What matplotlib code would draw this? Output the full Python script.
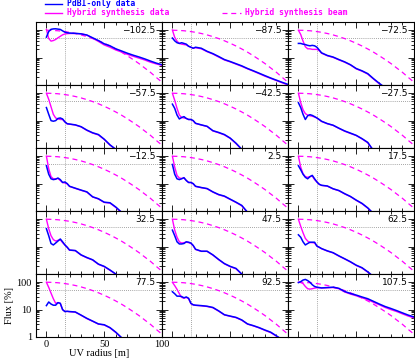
import numpy as np
import matplotlib
matplotlib.use('Agg')
from matplotlib import pyplot as plt
from matplotlib.lines import Line2D
from matplotlib.ticker import MultipleLocator, LogLocator, NullFormatter, FuncFormatter

nan = None

# UV radius sampling [m] for the measured curves
radius = [0, 2, 4, 6, 8, 10, 12, 14, 16, 18, 20, 25, 30, 35, 40, 45, 50,
          55, 60, 65, 70, 75, 80, 85, 90, 95, 100]

# hybrid synthesis beam profile
beam_radius = [0, 5, 10, 15, 20, 25, 30, 35, 40, 45, 50, 55, 60, 65, 70,
               75, 80, 85, 90, 95, 100]
beam_flux = [100, 98.9, 95.7, 90.6, 84.1, 76.1, 67.5, 58.5, 49.7, 41.2, 33.5,
             26.6, 20.7, 15.8, 11.7, 8.5, 6.1, 4.2, 2.9, 1.9, 1.26]

panel_labels = ['\u2212102.5', '\u221287.5', '\u221272.5',
                '\u221257.5', '\u221242.5', '\u221227.5',
                '\u221212.5', '2.5', '17.5',
                '32.5', '47.5', '62.5',
                '77.5', '92.5', '107.5']

pdbi_flux = [
    [56, 90, 108, 112, 113, 110, 107, 95, 85, 81, 79, 77, 74, 67, 53, 42, 32, 27, 21, 17.5, 14.5, 12.3, 10.6, 9, 7.5, 6.3, 5.5],
    [52, 41, 35, 33, 35, 33, 31, 26, 24, 22, 24, 22, 17, 14, 11, 8.5, 7.2, 6, 5, 4, 3.3, 2.7, 2.2, 1.8, 1.5, 1.25, 1.05],
    [33, 33, 31, 30, 28, 27, 28, 27, 24, 19, 15, 12, 10.5, 8.5, 7, 5.5, 4, 3.3, 2.6, 1.7, 1.15, 0.8, nan, nan, nan, nan, nan],
    [30, 17, 10, 9.5, 10, 12, 12.5, 11.5, 9, 7.7, 7.5, 7, 6, 4.5, 3.6, 3.1, 2.1, 1.3, 0.9, nan, nan, nan, nan, nan, nan, nan, nan],
    [40, 28, 16, 11.5, 13, 14, 12, 11, 11, 10, 8, 7, 6.2, 4.3, 3.7, 3.1, 2.3, 1.5, 0.9, nan, nan, nan, nan, nan, nan, nan, nan],
    [45, 30, 17, 11, 15, 16.5, 15.5, 14, 12.5, 11, 9.5, 7.8, 6.8, 5.3, 4.2, 3.5, 2.9, 2.2, 1.6, 0.8, nan, nan, nan, nan, nan, nan, nan],
    [45, 22, 15, 14, 14.5, 16, 14, 11, 11.5, 10, 8, 6.8, 5.8, 5, 3.3, 2.8, 2.1, 2.0, 1.4, 0.9, nan, nan, nan, nan, nan, nan, nan],
    [50, 22, 15, 14, 15, 16.5, 13, 11, 11, 10, 8, 7.2, 6.6, 5, 4, 3.5, 2.7, 2.1, 1.6, 0.9, nan, nan, nan, nan, nan, nan, nan],
    [45, 32, 22, 17, 15, 18, 20, 15, 11.5, 9.5, 8.7, 8.2, 6.5, 5.6, 4.3, 3.4, 2.5, 1.9, 1.3, 0.8, nan, nan, nan, nan, nan, nan, nan],
    [45, 25, 13, 11.5, 13.5, 16, 19, 15, 11.5, 9.5, 7.5, 7.2, 5, 4, 3.3, 2.3, 1.9, 1.4, 1.0, nan, nan, nan, nan, nan, nan, nan, nan],
    [40, 25, 15, 12.5, 12.5, 13, 15, 14.5, 13.5, 11, 8, 6.8, 6.8, 5, 3.4, 2.4, 1.9, 1.6, 1.0, nan, nan, nan, nan, nan, nan, nan, nan],
    [27, 22, 15, 11.5, 13, 14.5, 14.5, 14.5, 10.5, 9.5, 8.5, 7, 6, 4.6, 3.6, 2.8, 2.1, 1.7, 1.2, 0.8, nan, nan, nan, nan, nan, nan, nan],
    [14, 19, 16, 14.5, 14.5, 18, 17, 10, 8.5, 8.7, 8.5, 8.2, 6.3, 4.8, 3.8, 3, 2.8, 2.2, 1.5, 0.95, nan, nan, nan, nan, nan, nan, nan],
    [45, 38, 31, 31, 30, 27, 29, 26, 17, 15, 14.5, 14, 13.3, 12, 9, 6.5, 5.8, 5.2, 4.2, 3, 2.6, 2.2, 1.8, 1.5, 1.1, 0.8, nan],
    [97, 105, 120, 127, 115, 100, 81, 70, 66, 64, 62, 64, 66, 60, 46, 39, 34, 29, 25, 20, 16, 13, 11, 9.2, 7.6, 6.3, 5.4],
]

hybrid_flux = [
    [107, 50, 40, 42, 46, 53, 60, 68, 73, 75, 76, 76, 74, 66, 51, 39, 29, 24, 19, 16, 13.2, 11.2, 9.6, 8.2, 6.8, 5.9, 5.2],
    [102, 55, 40, 33, 31, 30, 29, 26, 24, 22, 23, 21, 16.5, 13.5, 10.5, 8.2, 7, 5.8, 4.8, 3.9, 3.2, 2.6, 2.1, 1.75, 1.45, 1.2, 1.0],
    [100, 70, 40, 25, 21, 21, 20, 20, 20, 18, 14.5, 11.7, 10.2, 8.3, 6.8, 5.4, 3.9, 3.2, 2.5, 1.65, 1.1, 0.78, nan, nan, nan, nan, nan],
    [100, 60, 32, 17, 12.5, 11.5, 11, 11, 9, 7.6, 7.4, 6.9, 5.9, 4.4, 3.5, 3, 2.05, 1.28, 0.88, nan, nan, nan, nan, nan, nan, nan, nan],
    [100, 55, 28, 16, 13, 12.5, 12, 11, 11, 9.8, 7.9, 6.9, 6.1, 4.2, 3.6, 3, 2.25, 1.45, 0.88, nan, nan, nan, nan, nan, nan, nan, nan],
    [100, 45, 25, 18, 16, 15, 14.5, 13.5, 12.5, 10.8, 9.3, 7.7, 6.7, 5.2, 4.1, 3.4, 2.85, 2.15, 1.55, 0.78, nan, nan, nan, nan, nan, nan, nan],
    [100, 35, 18, 15, 15, 15.5, 13, 11, 10.5, 9.8, 7.9, 6.7, 5.7, 4.9, 3.25, 2.75, 2.05, 1.95, 1.35, 0.88, nan, nan, nan, nan, nan, nan, nan],
    [100, 40, 20, 16, 15.5, 16, 13, 11, 11, 9.8, 7.9, 7.1, 6.5, 4.9, 3.9, 3.4, 2.65, 2.05, 1.55, 0.88, nan, nan, nan, nan, nan, nan, nan],
    [100, 40, 23, 18, 17, 18, 19, 14, 11.5, 9.4, 8.6, 8.1, 6.4, 5.5, 4.2, 3.35, 2.45, 1.85, 1.27, 0.78, nan, nan, nan, nan, nan, nan, nan],
    [100, 45, 25, 18, 16, 17, 18, 14, 11.5, 9.4, 7.4, 7.1, 4.9, 3.9, 3.25, 2.25, 1.85, 1.37, 0.98, nan, nan, nan, nan, nan, nan, nan, nan],
    [100, 40, 22, 15, 13.5, 14, 14.5, 14, 13, 10.8, 7.9, 6.7, 6.7, 4.9, 3.35, 2.35, 1.85, 1.55, 0.98, nan, nan, nan, nan, nan, nan, nan, nan],
    [100, 55, 32, 20, 16, 14, 14, 13.5, 10.5, 9.4, 8.4, 6.9, 5.9, 4.5, 3.55, 2.75, 2.05, 1.65, 1.17, 0.78, nan, nan, nan, nan, nan, nan, nan],
    [100, 65, 40, 25, 17, 18, 17, 10, 8.5, 8.6, 8.4, 8.1, 6.2, 4.7, 3.75, 2.95, 2.75, 2.15, 1.47, 0.93, nan, nan, nan, nan, nan, nan, nan],
    [100, 75, 55, 38, 28, 26, 28, 25, 16.5, 14.8, 14.3, 13.8, 13, 11.7, 8.8, 6.4, 5.7, 5.1, 4.1, 2.95, 2.55, 2.15, 1.75, 1.45, 1.07, 0.78, nan],
    [100, 98, 90, 70, 58, 56, 58, 61, 63, 63, 62, 63, 64, 58, 44, 37, 32, 27, 23, 18.5, 15, 12, 10, 8.5, 7, 5.8, 5],
]

BLUE = '#0000ff'
MAGENTA = '#ff00ff'

fig, axes = plt.subplots(5, 3, figsize=(4.15, 3.6), dpi=100, sharex=True, sharey=True)
fig.subplots_adjust(left=36/415, right=414/415, top=1-22/360, bottom=1-337/360,
                    wspace=0, hspace=0)

for i, ax in enumerate(axes.flat):
    ax.set_yscale('log')
    ax.set_xlim(-9, 100)
    ax.set_ylim(1, 200)

    # reference lines
    ax.axhline(50, color='#888888', ls=(0, (1, 1.5)), lw=0.6)
    ax.axvline(16, color='#888888', ls=(0, (1, 1.5)), lw=0.6)

    ax.plot(beam_radius, beam_flux, color=MAGENTA, lw=0.9, ls=(0, (4, 3)))
    ax.plot(radius, np.array(hybrid_flux[i], dtype=float), color=MAGENTA, lw=1.0)
    ax.plot(radius, np.array(pdbi_flux[i], dtype=float), color=BLUE, lw=1.1)

    ax.text(0.95, 0.93, panel_labels[i], transform=ax.transAxes, ha='right', va='top',
            fontsize=6.5, family='DejaVu Sans')

    ax.xaxis.set_major_locator(MultipleLocator(50))
    ax.xaxis.set_minor_locator(MultipleLocator(10))
    ax.yaxis.set_major_locator(LogLocator(base=10))
    ax.yaxis.set_minor_locator(LogLocator(base=10, subs=np.arange(2, 10)))
    ax.tick_params(which='both', direction='in', top=True, right=True, width=0.6)
    ax.tick_params(which='major', length=4)
    ax.tick_params(which='minor', length=2)
    for s in ax.spines.values():
        s.set_linewidth(0.8)
    if i != 12:
        ax.tick_params(labelbottom=False, labelleft=False)
    ax.yaxis.set_minor_formatter(NullFormatter())

ax = axes[4, 0]
ax.yaxis.set_major_formatter(FuncFormatter(lambda v, p: '%g' % v))
ax.tick_params(labelbottom=True, labelleft=True, labelsize=7.5)
ax.tick_params(axis='x', pad=2)
ax.tick_params(axis='y', pad=3)
for lab in ax.get_xticklabels() + ax.get_yticklabels():
    lab.set_family('Liberation Serif')
ax.set_xlabel('UV radius [m]', family='Liberation Serif', fontsize=7.5, labelpad=0)
ax.set_ylabel('Flux [%]', family='Liberation Serif', fontsize=7.5, labelpad=2)

# legend drawn at the top of the figure
def px(x, y):
    return x / 415, 1 - y / 360

fig.add_artist(Line2D([px(45, 0)[0], px(62, 0)[0]], [px(0, 4)[1]] * 2, color=BLUE, lw=1.0))
fig.text(*px(67, 4), 'PdBI-only data', color=BLUE, fontsize=5.8, weight='bold',
         family='DejaVu Sans Mono', va='center')
fig.add_artist(Line2D([px(45, 0)[0], px(62, 0)[0]], [px(0, 12.7)[1]] * 2, color=MAGENTA, lw=1.0))
fig.text(*px(67, 12.7), 'Hybrid synthesis data', color=MAGENTA, fontsize=5.8, weight='bold',
         family='DejaVu Sans Mono', va='center')
fig.add_artist(Line2D([px(222, 0)[0], px(241, 0)[0]], [px(0, 12.7)[1]] * 2, color=MAGENTA,
                      lw=0.9, ls=(0, (4, 3))))
fig.text(*px(245, 12.7), 'Hybrid synthesis beam', color=MAGENTA, fontsize=5.8, weight='bold',
         family='DejaVu Sans Mono', va='center')

fig.savefig('out.png', dpi=100)
